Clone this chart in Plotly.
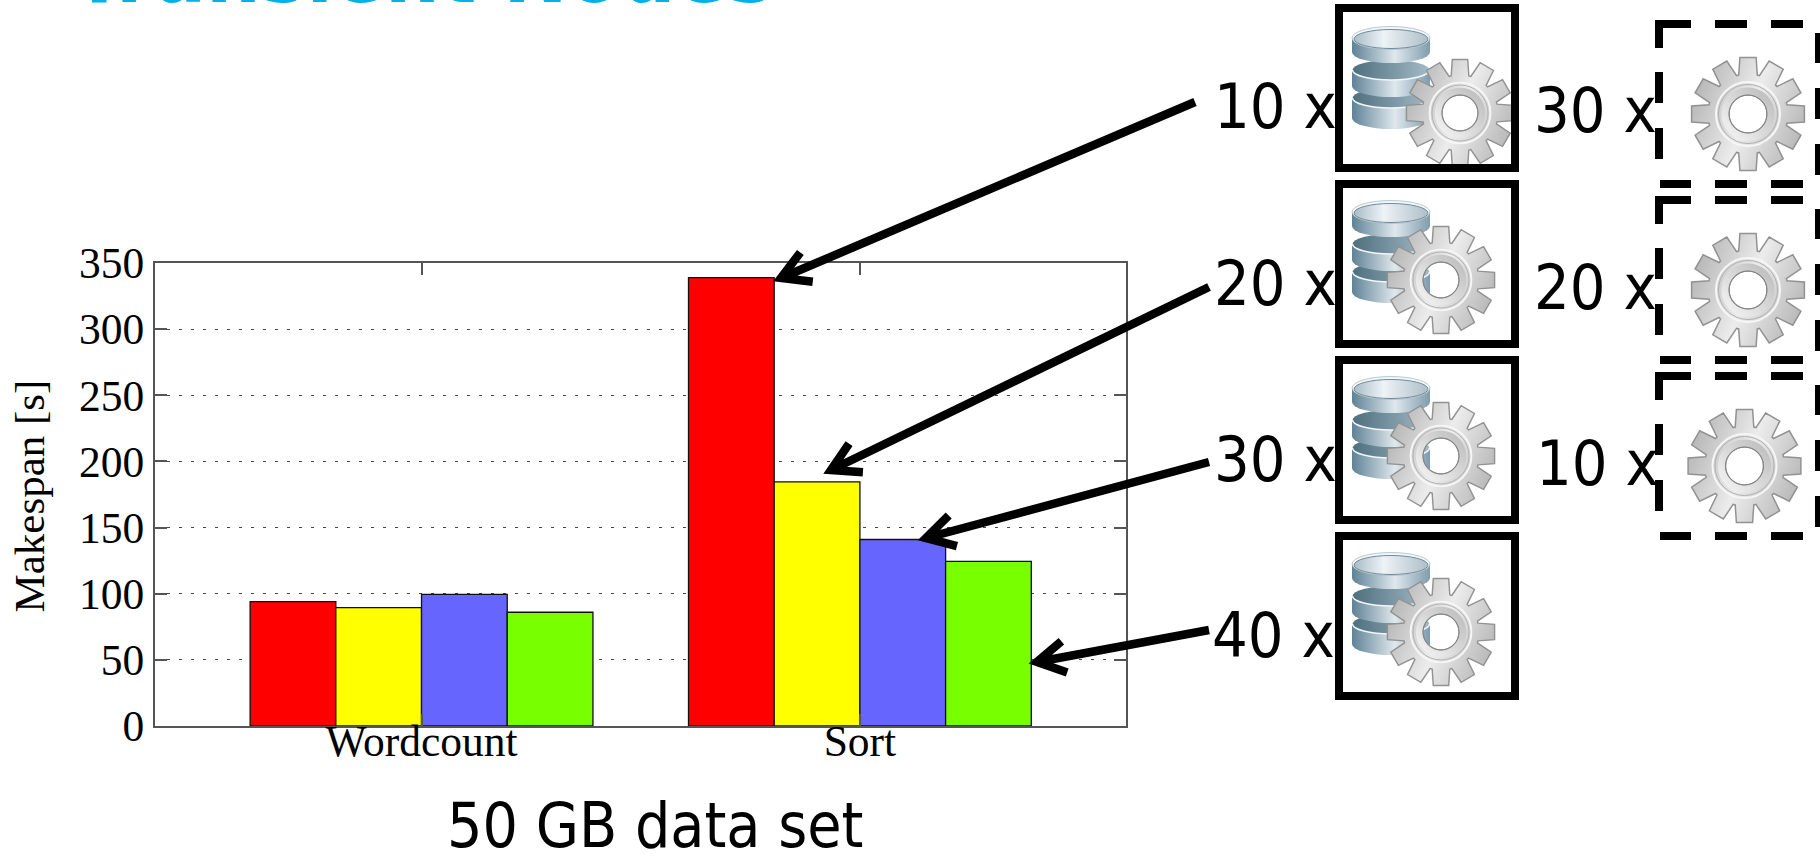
import base64
import math
import plotly.graph_objects as go

# ---------- data ----------
categories = ["Wordcount", "Sort"]
ten_data_nodes = [94, 339]
twenty_data_nodes = [89.5, 184.5]
thirty_data_nodes = [99.5, 141]
forty_data_nodes = [86, 124.5]
series_values = [ten_data_nodes, twenty_data_nodes, thirty_data_nodes, forty_data_nodes]
series_names = ["10 x", "20 x", "30 x", "40 x"]
series_colors = ["#ff0000", "#ffff00", "#6666ff", "#78ff00"]
y_ticks = [0, 50, 100, 150, 200, 250, 300, 350]

W, H = 1820, 854
def fx(x): return x / W
def fy(y): return 1 - y / H

SANS = "DejaVu Sans Condensed, DejaVu Sans"
SERIF = "Liberation Serif"

fig = go.Figure()
for name, vals, col in zip(series_names, series_values, series_colors):
    fig.add_bar(x=categories, y=vals, name=name, marker=dict(color=col, line=dict(color="#111111", width=1.3)))

# ---------- icons (decorative, inline SVG) ----------
def gear_svg():
    c, ro, rr = 60, 57, 40
    pts = []
    for i in range(12):
        a = math.radians(i * 30 - 90)
        for r, d in [(rr, -13.5), (ro, -8.2), (ro, 8.2), (rr, 13.5)]:
            t = a + math.radians(d)
            pts.append(f"{c + r * math.cos(t):.1f},{c + r * math.sin(t):.1f}")
    path = "M" + " L".join(pts) + " Z"
    hole = f"M{c-19},{c} a19,19 0 1,0 38,0 a19,19 0 1,0 -38,0 Z"
    return f'''<svg xmlns="http://www.w3.org/2000/svg" width="240" height="240" viewBox="0 0 120 120">
<defs><linearGradient id="g" x1="0" y1="0.3" x2="1" y2="0.7"><stop offset="0" stop-color="#b4b4b4"/><stop offset="0.5" stop-color="#ececec"/><stop offset="1" stop-color="#b6b6b6"/></linearGradient>
<linearGradient id="h" x1="1" y1="0" x2="0" y2="1"><stop offset="0" stop-color="#bcbcbc"/><stop offset="1" stop-color="#f4f4f4"/></linearGradient></defs>
<path d="{path} {hole}" fill="url(#g)" fill-rule="evenodd" stroke="#929292" stroke-width="1.5"/>
<circle cx="{c}" cy="{c}" r="32" fill="none" stroke="#f6f6f6" stroke-width="2"/>
<circle cx="{c}" cy="{c}" r="29.5" fill="none" stroke="#b0b0b0" stroke-width="1"/>
<circle cx="{c}" cy="{c}" r="23" fill="none" stroke="url(#h)" stroke-width="7"/>
<circle cx="{c}" cy="{c}" r="19" fill="none" stroke="#858585" stroke-width="1"/>
</svg>'''

def db_svg():
    parts = []
    for top, bottom, first in [(72, 92, False), (44, 60, False), (12, 26, True)]:
        parts.append(f'<path d="M1,{top} V{bottom} A39,11 0 0,0 79,{bottom} V{top} Z" fill="url(#b)"/>')
        if first:
            parts.append(f'<ellipse cx="40" cy="{top}" rx="39" ry="11.5" fill="#f2f6f8" stroke="#a9bcc6" stroke-width="0.8"/>')
            parts.append(f'<ellipse cx="40" cy="{top+1}" rx="37" ry="9.5" fill="url(#t)" stroke="#6f8c9b" stroke-width="1"/>')
        else:
            parts.append(f'<ellipse cx="40" cy="{top}" rx="38.5" ry="10" fill="url(#d)"/>')
            parts.append(f'<path d="M1.5,{top} A38.5,10 0 0,0 78.5,{top}" fill="none" stroke="#f2f6f8" stroke-width="1.6"/>')
    return f'''<svg xmlns="http://www.w3.org/2000/svg" width="160" height="208" viewBox="0 0 80 104">
<defs><linearGradient id="b"><stop offset="0" stop-color="#5f8296"/><stop offset="0.55" stop-color="#dfe8ed"/><stop offset="1" stop-color="#7f9cad"/></linearGradient>
<linearGradient id="t"><stop offset="0" stop-color="#a9bcc6"/><stop offset="0.4" stop-color="#eef3f6"/><stop offset="1" stop-color="#aebfc9"/></linearGradient>
<linearGradient id="d"><stop offset="0" stop-color="#4e6f7f"/><stop offset="1" stop-color="#a4bbc6"/></linearGradient></defs>
{"".join(parts)}</svg>'''

def uri(s):
    return "data:image/svg+xml;base64," + base64.b64encode(s.encode()).decode()

GEAR, DB = uri(gear_svg()), uri(db_svg())
images = []
def place(src, x, y, w, h):
    images.append(dict(source=src, xref="paper", yref="paper", x=fx(x), y=fy(y), sizex=w / W, sizey=h / H,
                       xanchor="left", yanchor="top", sizing="stretch", layer="above"))

for top in [26, 200, 376, 552]:
    place(DB, 1351, top, 80, 104)
for cx, cy, d in [(1460, 113, 114), (1441, 280, 114), (1441, 456, 114), (1441, 632, 114),
                  (1748, 114, 120), (1748, 290, 120), (1744.5, 466, 120)]:
    place(GEAR, cx - d / 2, cy - d / 2, d, d)

# ---------- overlay shapes ----------
shapes = []
for y0, y1 in [(8, 168), (184, 344), (360, 520), (536, 696)]:
    shapes.append(dict(type="rect", xref="paper", yref="paper", x0=fx(1339), x1=fx(1515), y0=fy(y0), y1=fy(y1),
                       line=dict(color="#000000", width=8), fillcolor="rgba(0,0,0,0)"))

def seg(x0, y0, x1, y1):
    return f"M{fx(x0):.5f},{fy(y0):.5f} L{fx(x1):.5f},{fy(y1):.5f} "

for dy in [0, 176, 352]:
    p = ""
    p += seg(1659, 48 + dy, 1659, 24 + dy) + f"L{fx(1691):.5f},{fy(24 + dy):.5f} "
    for a, b in [(1715, 1747), (1771, 1803)]:
        p += seg(a, 24 + dy, b, 24 + dy)
    for a, b in [(72, 103), (128, 159)]:
        p += seg(1659, a + dy, 1659, b + dy)
    for a, b in [(1660, 1691), (1715, 1747), (1771, 1803)]:
        p += seg(a, 184 + dy, b, 184 + dy)
    for a, b in [(33, 63), (88, 119), (144, 175)]:
        p += seg(1819, a + dy, 1819, b + dy)
    shapes.append(dict(type="path", xref="paper", yref="paper", path=p, line=dict(color="#000000", width=8)))

arrows = [((1195, 102), (781, 278)), ((1209, 287), (831, 470)), ((1209, 462), (926, 538)), ((1209, 630), (1037, 662))]
for (sx, sy), (tx, ty) in arrows:
    ang = math.atan2(sy - ty, sx - tx)
    arm = 32
    a1 = (tx + arm * math.cos(ang + 0.52), ty + arm * math.sin(ang + 0.52))
    a2 = (tx + arm * math.cos(ang - 0.52), ty + arm * math.sin(ang - 0.52))
    p = seg(sx, sy, tx, ty) + seg(a1[0], a1[1], tx, ty) + f"L{fx(a2[0]):.5f},{fy(a2[1]):.5f}"
    shapes.append(dict(type="path", xref="paper", yref="paper", path=p, line=dict(color="#000000", width=8.5)))

# ---------- text ----------
annotations = []
def label(text, x, y, size=62.5, family=SANS, color="#000000", anchor="left", yanchor="middle", **kw):
    annotations.append(dict(text=text, xref="paper", yref="paper", x=fx(x), y=fy(y), xanchor=anchor, yanchor=yanchor,
                            showarrow=False, font=dict(family=family, size=size, color=color), **kw))

label("10 x", 1212, 106)
label("20 x", 1212, 283)
label("30 x", 1212, 459)
label("40 x", 1210, 635)
label("30 x", 1532, 110)
label("20 x", 1532, 288)
label("10 x", 1534, 463)
label("50 GB data set", 445, 825, size=62)
label("<b>Transient Nodes</b>", 71, 24, size=85.5, color="#00B0E6", yanchor="bottom")
label("Makespan [s]", 29, 496.5, size=43, family=SERIF, anchor="center", textangle=-90)

fig.update_layout(
    width=W, height=H, margin=dict(l=0, r=0, t=0, b=0), showlegend=False,
    paper_bgcolor="#ffffff", plot_bgcolor="#ffffff",
    barmode="group", bargap=0.218, bargroupgap=0,
    images=images, shapes=shapes, annotations=annotations,
    xaxis=dict(domain=[fx(155), fx(1126)], type="category", range=[-0.608, 1.607], showline=True, mirror="ticks",
               automargin=False, linecolor="#555555", linewidth=2, ticks="inside", ticklen=12, tickcolor="#555555", tickwidth=1.5,
               showgrid=False, ticklabelstandoff=-24, tickfont=dict(family=SERIF, size=43.5, color="#000000")),
    yaxis=dict(domain=[fy(726), fy(263)], range=[0, 350], tickvals=y_ticks, showline=True, mirror="ticks",
               automargin=False, linecolor="#555555", linewidth=2, ticks="inside", ticklen=12, tickcolor="#555555", tickwidth=1.5,
               showgrid=True, gridcolor="#444444", griddash="3px,9px", gridwidth=1.3, zeroline=False,
               tickfont=dict(family=SERIF, size=43.5, color="#000000")),
)

fig.write_html("out.html", config={"displayModeBar": False},
               post_script="document.body.style.margin='0';document.body.style.overflow='hidden';")
